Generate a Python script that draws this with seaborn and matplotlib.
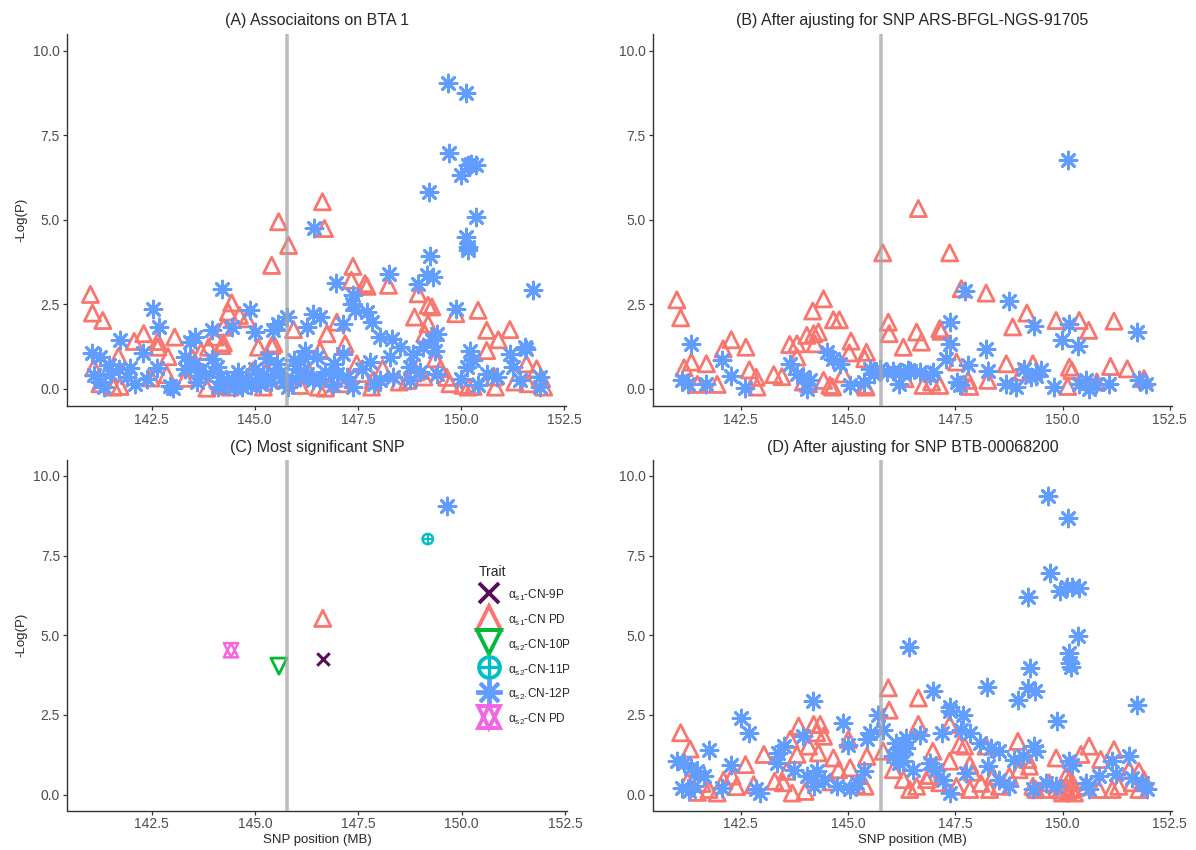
import numpy as np
import pandas as pd
import matplotlib
matplotlib.use("Agg")
import matplotlib.pyplot as plt
from matplotlib.lines import Line2D
import seaborn as sns

sns.set_style("white")
plt.rcParams['font.family'] = ['Liberation Sans', 'DejaVu Sans']
plt.rcParams['mathtext.fontset'] = 'custom'
plt.rcParams['mathtext.rm'] = 'Liberation Sans'
plt.rcParams['mathtext.it'] = 'Liberation Sans'
plt.rcParams['mathtext.default'] = 'rm'

RED = "#F8766D"
BLUE = "#619CFF"
PURPLE = "#5B0B5B"
GREEN = "#00BA38"
TEAL = "#00BFC4"
PINK = "#F564E3"

# ---- panel A: associations on BTA 1 ----
a_tri_pos = [141.02, 141.07, 141.32, 141.70, 141.10, 141.74, 141.58, 141.25, 142.08, 142.31,
             142.65, 142.65, 143.06, 142.49, 142.87, 143.32, 143.84, 144.24, 144.24, 144.04,
             143.88, 144.44, 144.36, 144.63, 144.81, 144.97, 145.09, 145.41, 145.94, 146.10,
             145.21, 144.21, 144.17, 144.92, 145.46, 145.41, 145.58, 145.82, 146.64, 146.69,
             147.38, 147.34, 147.67, 147.72, 148.24, 148.96, 149.20, 149.29, 148.87, 149.20,
             149.12, 150.41, 150.62, 150.90, 151.18, 150.62, 149.37, 147.19, 146.99, 146.75,
             146.58, 147.47, 147.87, 149.65, 149.73, 150.17, 151.58, 151.83, 152.00, 146.54,
             146.71, 147.83, 148.71, 150.04, 150.29, 150.83, 151.62, 149.87, 146.30, 146.90,
             147.60, 148.10, 148.50, 148.90, 149.10, 149.50, 150.80, 151.30, 145.70, 145.30,
             144.60, 144.40, 143.50, 143.70, 142.90, 146.20, 147.10, 151.95]
a_tri_logp = [2.79, 2.24, 2.02, 0.96, 0.62, 0.07, 0.05, 0.15, 1.40, 1.63,
              1.40, 1.23, 1.53, 0.32, 0.42, 0.31, 0.02, 1.36, 1.82, 1.53,
              1.23, 2.54, 2.27, 2.17, 2.07, 0.54, 1.23, 1.28, 1.75, 0.10,
              0.05, 1.28, 0.10, 0.49, 1.33, 3.65, 4.94, 4.24, 5.53, 4.74,
              3.62, 3.21, 3.11, 3.03, 3.06, 2.81, 2.47, 2.42, 2.12, 1.92,
              1.63, 2.32, 1.73, 1.45, 1.75, 1.13, 0.89, 1.33, 1.97, 1.63,
              1.13, 0.74, 0.26, 0.34, 0.15, 0.05, 0.74, 0.59, 0.05, 0.05,
              0.02, 0.05, 0.25, 0.10, 0.07, 0.05, 0.15, 2.22, 0.50, 0.30,
              0.45, 0.60, 0.20, 0.50, 0.35, 0.60, 0.35, 0.20, 0.30, 0.55,
              0.20, 0.05, 0.90, 1.10, 0.95, 0.75, 0.15, 0.30]
a_ast_pos = [149.67, 150.12, 149.71, 150.00, 150.17, 150.25, 150.37, 149.21, 150.37, 150.12,
             150.17, 150.17, 146.43, 149.25, 149.17, 149.33, 148.96, 148.25, 146.98, 147.37,
             147.36, 147.42, 151.75, 144.20, 149.87, 151.54, 142.53, 142.69, 141.74, 142.29,
             141.06, 141.26, 141.46, 141.70, 141.99, 142.63, 142.11, 141.26, 141.34, 142.95,
             143.03, 143.42, 143.56, 143.32, 143.52, 143.64, 143.96, 143.96, 144.08, 144.16,
             144.32, 144.48, 144.65, 144.44, 144.89, 145.01, 145.45, 145.57, 145.77, 145.29,
             145.53, 145.13, 145.94, 146.26, 146.42, 146.58, 147.15, 147.71, 147.83, 148.04,
             148.32, 148.52, 148.84, 149.08, 149.29, 149.41, 149.37, 146.22, 146.50, 146.91,
             147.15, 147.23, 147.39, 147.79, 148.28, 148.76, 148.36, 149.41, 150.21, 150.29,
             150.13, 150.62, 150.86, 151.18, 151.26, 151.58, 151.91, 151.91, 151.42, 146.58,
             148.04, 148.76, 146.26, 144.60, 144.80, 145.00, 145.30, 145.60, 145.90, 146.00,
             146.20, 146.40, 146.70, 146.90, 147.00, 147.60, 143.80, 143.30, 142.40, 141.90,
             141.50, 144.30, 144.70, 145.20, 145.70, 150.00, 150.40, 149.00, 147.90, 141.10,
             144.50, 144.90, 145.40, 145.80, 146.10, 143.60, 144.10, 145.10]
a_ast_logp = [9.05, 8.76, 6.98, 6.32, 6.61, 6.66, 6.61, 5.82, 5.08, 4.49,
              4.20, 4.10, 4.74, 3.92, 3.36, 3.31, 3.11, 3.39, 3.14, 2.76,
              2.52, 2.32, 2.91, 2.96, 2.37, 1.23, 2.37, 1.83, 1.43, 1.05,
              1.05, 0.94, 0.69, 0.59, 0.62, 0.62, 0.15, 0.20, 0.05, 0.07,
              0.03, 1.38, 1.53, 0.94, 0.74, 0.54, 1.73, 0.89, 0.64, 0.34,
              0.25, 0.25, 0.15, 1.83, 2.32, 1.68, 1.73, 1.92, 2.12, 0.34,
              0.74, 0.15, 0.84, 1.83, 2.22, 2.12, 1.92, 2.27, 1.97, 1.53,
              1.48, 1.23, 1.03, 1.23, 1.43, 1.63, 1.13, 1.13, 0.94, 0.74,
              1.03, 0.34, 0.05, 0.79, 0.94, 0.64, 0.34, 0.44, 1.13, 0.84,
              0.64, 0.44, 0.34, 1.03, 0.64, 1.18, 0.34, 0.05, 0.25, 0.25,
              0.25, 0.25, 0.44, 0.50, 0.30, 0.60, 0.90, 0.45, 0.30, 0.60,
              0.90, 0.25, 0.50, 0.10, 0.45, 0.60, 0.40, 0.60, 0.30, 0.35,
              0.45, 0.10, 0.05, 0.40, 0.20, 0.30, 0.10, 0.50, 0.15, 0.40,
              0.05, 0.10, 0.20, 0.05, 0.35, 0.20, 0.05, 0.30]

# ---- panel B: after adjusting for ARS-BFGL-NGS-91705 ----
b_tri_pos = [141.01, 141.10, 141.18, 141.35, 141.70, 141.49, 141.95, 142.09, 142.28, 142.62,
             142.70, 142.86, 142.88, 143.27, 143.46, 143.64, 143.81, 144.04, 144.20, 144.31,
             144.23, 143.81, 144.18, 144.43, 144.66, 144.80, 145.07, 145.03, 145.43, 145.39,
             144.89, 143.96, 144.08, 144.43, 144.58, 144.64, 145.42, 145.40, 145.81, 145.94,
             145.96, 146.29, 146.64, 147.37, 147.64, 148.22, 149.17, 148.84, 149.85, 150.39,
             150.61, 151.20, 146.60, 146.71, 146.33, 147.14, 147.17, 147.53, 147.80, 147.84,
             147.14, 146.75, 148.26, 148.69, 149.04, 149.31, 150.16, 150.22, 150.12, 151.12,
             151.51, 151.90, 150.80, 146.95]
b_tri_logp = [2.63, 2.10, 0.62, 0.79, 0.74, 0.13, 0.13, 1.18, 1.45, 1.23,
              0.56, 0.34, 0.05, 0.42, 0.36, 1.31, 1.33, 1.58, 1.63, 1.68,
              1.33, 0.94, 2.30, 2.66, 2.04, 2.04, 1.41, 1.06, 1.08, 0.89,
              0.44, 0.20, 0.15, 0.25, 0.10, 0.05, 0.05, 0.10, 4.02, 1.97,
              1.63, 1.23, 5.33, 4.02, 2.96, 2.83, 2.24, 1.83, 2.02, 2.02,
              1.73, 2.00, 1.68, 1.38, 0.30, 1.78, 1.70, 0.79, 0.25, 0.07,
              0.10, 0.10, 0.25, 0.74, 0.49, 0.74, 0.64, 0.54, 0.07, 0.66,
              0.59, 0.30, 0.20, 0.20]
b_ast_pos = [150.12, 147.72, 148.76, 147.37, 147.37, 148.22, 149.34, 150.14, 149.98, 150.35,
             151.73, 141.33, 142.07, 142.28, 142.61, 141.14, 141.26, 141.68, 143.65, 143.81,
             143.96, 144.51, 144.66, 144.81, 144.04, 144.11, 145.05, 145.37, 145.51, 145.74,
             146.05, 146.20, 147.29, 147.80, 146.44, 146.67, 146.21, 146.98, 147.53, 147.60,
             148.26, 148.69, 148.92, 149.38, 149.27, 149.81, 150.39, 150.54, 150.78, 151.09,
             150.62, 151.78, 151.94, 145.60, 145.90, 146.40, 146.90, 149.50, 149.10]
b_ast_logp = [6.78, 2.89, 2.61, 1.97, 1.33, 1.18, 1.87, 1.92, 1.43, 1.28,
              1.68, 1.33, 0.86, 0.39, 0.03, 0.25, 0.15, 0.15, 0.74, 0.44,
              0.34, 1.08, 0.89, 0.74, 0.00, 0.25, 0.10, 0.20, 0.59, 0.59,
              0.54, 0.15, 0.89, 0.69, 0.54, 0.49, 0.49, 0.49, 0.20, 0.10,
              0.54, 0.15, 0.05, 0.39, 0.34, 0.05, 0.15, 0.25, 0.15, 0.15,
              0.00, 0.25, 0.15, 0.45, 0.50, 0.55, 0.40, 0.55, 0.60]

# ---- panel C: most significant SNP per trait ----
c_traits = ["as1-9P", "as1-PD", "as2-10P", "as2-11P", "as2-12P", "as2-PD"]
c_labels = ["α$_{s1}$-CN-9P", "α$_{s1}$-CN PD", "α$_{s2}$-CN-10P",
            "α$_{s2}$-CN-11P", "α$_{s2}$.CN-12P", "α$_{s2}$-CN PD"]
c_pos = [146.64, 146.64, 145.58, 149.18, 149.64, 144.42]
c_logp = [4.24, 5.53, 4.03, 8.02, 9.06, 4.53]

# ---- panel D: after adjusting for BTB-00068200 ----
d_tri_pos = [141.10, 141.32, 141.26, 141.49, 141.76, 141.95, 142.30, 142.61, 142.80, 143.04,
             143.29, 143.49, 143.57, 143.65, 143.85, 144.20, 144.35, 144.27, 144.43, 143.81,
             144.08, 144.31, 144.66, 144.78, 145.05, 145.01, 145.44, 145.40, 145.94, 145.96,
             145.82, 146.06, 146.64, 146.64, 147.37, 147.60, 147.72, 146.98, 147.37, 147.84,
             148.22, 148.96, 149.19, 149.23, 149.85, 150.43, 150.62, 150.89, 151.20, 151.55,
             151.78, 151.90, 148.38, 148.76, 148.99, 150.08, 150.16, 150.23, 150.08, 150.23,
             150.00, 149.69, 149.54, 149.31, 149.38, 147.53, 147.84, 147.14, 146.83, 146.60,
             146.44, 146.29, 148.30, 148.53, 150.54, 150.85, 151.16, 151.31, 151.63, 151.78,
             143.70, 144.00, 144.60, 145.20, 146.90, 147.90, 148.10, 142.10, 142.40, 141.60,
             150.12, 150.20, 150.28, 149.95]
d_tri_logp = [1.94, 1.43, 0.42, 0.07, 0.16, 0.05, 0.58, 0.94, 0.31, 1.26,
              0.42, 0.37, 0.73, 1.73, 2.15, 2.20, 2.20, 1.94, 1.83, 1.26,
              1.52, 1.31, 1.15, 0.78, 0.84, 1.73, 1.20, 0.26, 3.35, 2.65,
              1.36, 0.78, 3.03, 2.20, 2.20, 1.57, 1.52, 1.36, 1.05, 0.94,
              1.52, 1.67, 1.10, 0.89, 1.15, 1.26, 1.52, 1.10, 1.41, 0.78,
              0.73, 0.47, 0.58, 0.58, 0.78, 0.58, 0.47, 0.37, 0.26, 0.16,
              0.05, 0.37, 0.16, 0.26, 0.16, 0.26, 0.16, 0.37, 0.47, 0.26,
              0.16, 0.47, 0.16, 0.26, 0.26, 0.16, 0.16, 0.26, 0.37, 0.16,
              0.05, 0.10, 0.40, 0.30, 0.60, 0.70, 0.35, 0.45, 0.25, 0.35,
              0.10, 0.20, 0.05, 0.15]
d_ast_pos = [149.66, 150.12, 149.70, 149.19, 149.94, 150.10, 150.22, 150.38, 150.36, 150.14,
             150.18, 150.19, 146.43, 149.25, 149.20, 149.36, 148.97, 148.24, 146.99, 147.37,
             147.69, 149.87, 151.74, 144.18, 142.51, 142.70, 141.76, 142.28, 141.02, 141.17,
             141.33, 141.48, 141.64, 141.14, 141.29, 141.41, 142.07, 142.96, 142.85, 143.34,
             143.50, 143.38, 143.96, 143.74, 144.05, 144.28, 144.43, 144.74, 144.20, 144.89,
             145.01, 145.44, 145.51, 145.70, 145.82, 145.37, 145.20, 145.05, 146.13, 146.29,
             146.36, 146.05, 146.20, 147.37, 147.18, 147.64, 147.84, 146.67, 148.07, 148.34,
             148.53, 148.88, 149.07, 149.34, 149.38, 150.23, 150.16, 151.16, 151.55, 150.85,
             151.24, 151.63, 151.86, 151.98, 150.62, 150.54, 146.91, 147.06, 147.22, 147.37,
             147.76, 148.26, 148.53, 148.76, 149.31, 149.62, 149.85, 146.36, 146.29, 146.52]
d_ast_logp = [9.37, 8.67, 6.96, 6.19, 6.40, 6.52, 6.52, 6.47, 4.98, 4.43,
              4.12, 4.01, 4.64, 3.96, 3.33, 3.26, 2.98, 3.38, 3.26, 2.75,
              2.49, 2.30, 2.81, 2.93, 2.41, 1.92, 1.41, 0.94, 1.05, 1.00,
              0.84, 0.73, 0.58, 0.21, 0.10, 0.26, 0.21, 0.05, 0.16, 0.99,
              1.52, 1.31, 1.83, 0.78, 0.58, 0.73, 0.47, 0.26, 0.26, 2.25,
              1.57, 1.73, 1.94, 2.51, 2.04, 0.73, 0.37, 0.16, 1.62, 1.52,
              1.78, 1.20, 0.99, 2.62, 1.94, 2.04, 1.94, 1.88, 1.62, 1.47,
              1.36, 1.10, 1.20, 1.52, 1.36, 0.94, 1.05, 1.05, 1.20, 0.58,
              0.63, 0.52, 0.37, 0.16, 0.16, 0.37, 1.00, 0.78, 0.47, 0.05,
              0.68, 0.89, 0.47, 0.26, 0.16, 0.37, 0.26, 1.47, 1.05, 0.78]

VLINE = 145.77

W, H = 1196, 850
fig = plt.figure(figsize=(W / 100, H / 100), dpi=100)


def add_ax(x0, y0, x1, y1):
    return fig.add_axes([x0 / W, 1 - y1 / H, (x1 - x0) / W, (y1 - y0) / H])


axA = add_ax(66.9, 33.7, 566.4, 405.7)
axB = add_ax(652.8, 33.7, 1171.9, 405.7)
axC = add_ax(67.0, 460.0, 567.0, 810.5)
axD = add_ax(652.8, 460.0, 1171.9, 810.5)

TRI = dict(marker="^", s=135, linewidth=2.0)
AST = dict(marker=(8, 2, 0), s=150, linewidth=2.0)


def draw_main(ax, tri_pos, tri_logp, ast_pos, ast_logp):
    sns.scatterplot(x=tri_pos, y=tri_logp, color=RED, facecolors="none", edgecolor=RED,
                    ax=ax, zorder=2, **TRI)
    sns.scatterplot(x=ast_pos, y=ast_logp, color=BLUE, ax=ax, zorder=2, **AST)


draw_main(axA, a_tri_pos, a_tri_logp, a_ast_pos, a_ast_logp)
draw_main(axB, b_tri_pos, b_tri_logp, b_ast_pos, b_ast_logp)
draw_main(axD, d_tri_pos, d_tri_logp, d_ast_pos, d_ast_logp)

# panel C: one point per trait
dfC = pd.DataFrame({"trait": c_traits, "pos": c_pos, "logp": c_logp})
pt = dfC.set_index("trait")
sns.scatterplot(x=[pt.loc["as1-9P", "pos"]], y=[pt.loc["as1-9P", "logp"]], marker="x",
                color=PURPLE, s=80, linewidth=2.2, ax=axC)
sns.scatterplot(x=[pt.loc["as1-PD", "pos"]], y=[pt.loc["as1-PD", "logp"]], color=RED,
                facecolors="none", edgecolor=RED, ax=axC, **TRI)
sns.scatterplot(x=[pt.loc["as2-10P", "pos"]], y=[pt.loc["as2-10P", "logp"]], marker="v",
                s=135, linewidth=2.0, color=GREEN, facecolors="none", edgecolor=GREEN, ax=axC)
sns.scatterplot(x=[pt.loc["as2-11P", "pos"]], y=[pt.loc["as2-11P", "logp"]], marker="o",
                s=55, linewidth=1.8, color=TEAL, facecolors="none", edgecolor=TEAL, ax=axC)
sns.scatterplot(x=[pt.loc["as2-11P", "pos"]], y=[pt.loc["as2-11P", "logp"]], marker="+",
                s=55, linewidth=1.4, color=TEAL, ax=axC)
sns.scatterplot(x=[pt.loc["as2-12P", "pos"]], y=[pt.loc["as2-12P", "logp"]], color=BLUE,
                ax=axC, **AST)
for mk in ["^", "v"]:
    sns.scatterplot(x=[pt.loc["as2-PD", "pos"]], y=[pt.loc["as2-PD", "logp"]], marker=mk,
                    s=105, linewidth=1.8, color=PINK, facecolors="none", edgecolor=PINK, ax=axC)

titles = ["(A) Associaitons on BTA 1", "(B) After ajusting for SNP ARS-BFGL-NGS-91705",
          "(C) Most significant SNP", "(D) After ajusting for SNP BTB-00068200"]
for ax, t in zip([axA, axB, axC, axD], titles):
    ax.axvline(VLINE, color="#A6A6A6", lw=2.6, alpha=0.75, zorder=3)
    ax.set_xlim(140.45, 152.55)
    ax.set_ylim(-0.5, 10.5)
    ax.set_xticks([142.5, 145.0, 147.5, 150.0, 152.5])
    ax.set_xticklabels(["142.5", "145.0", "147.5", "150.0", "152.5"])
    ax.set_yticks([0, 2.5, 5, 7.5, 10])
    ax.set_yticklabels(["0.0", "2.5", "5.0", "7.5", "10.0"])
    ax.tick_params(axis="both", length=3, width=0.9, color="#333333", labelsize=10,
                   labelcolor="#4D4D4D", pad=2, direction="out", bottom=True, left=True)
    for side in ["top", "right"]:
        ax.spines[side].set_visible(False)
    for side in ["left", "bottom"]:
        ax.spines[side].set_color("#333333")
        ax.spines[side].set_linewidth(1.0)
    ax.set_title(t, fontsize=11.5, pad=6)
    ax.set_xlabel("")
    ax.set_ylabel("")

axA.set_ylabel("-Log(P)", fontsize=9.5)
axC.set_ylabel("-Log(P)", fontsize=9.5)
axC.set_xlabel("SNP position (MB)", fontsize=9.5, labelpad=2)
axD.set_xlabel("SNP position (MB)", fontsize=9.5, labelpad=2)

# legend for panel C
h_x = Line2D([], [], ls="none", marker="x", color=PURPLE, ms=15, mew=2.8)
h_tri = Line2D([], [], ls="none", marker="^", color=RED, mfc="none", ms=17, mew=2.8)
h_v = Line2D([], [], ls="none", marker="v", color=GREEN, mfc="none", ms=17, mew=2.8)
h_o = Line2D([], [], ls="none", marker="o", color=TEAL, mfc="none", ms=15, mew=2.8)
h_p = Line2D([], [], ls="none", marker="+", color=TEAL, ms=15, mew=2.4)
h_ast = Line2D([], [], ls="none", marker=(8, 2, 0), color=BLUE, ms=19, mew=2.8)
h_up = Line2D([], [], ls="none", marker="^", color=PINK, mfc="none", ms=16, mew=2.8)
h_dn = Line2D([], [], ls="none", marker="v", color=PINK, mfc="none", ms=16, mew=2.8)
handles = [h_x, h_tri, h_v, (h_o, h_p), h_ast, (h_up, h_dn)]
leg = axC.legend(handles, c_labels, title="Trait", loc="upper left",
                 bbox_to_anchor=(470 / W, 1 - 557 / H), bbox_transform=fig.transFigure,
                 frameon=False, fontsize=8.5, title_fontsize=10, handlelength=1.8,
                 handleheight=1.9, labelspacing=0.62, handletextpad=0.7, borderpad=0.2)
leg._legend_box.align = "left"

fig.savefig("out.png", dpi=100)
